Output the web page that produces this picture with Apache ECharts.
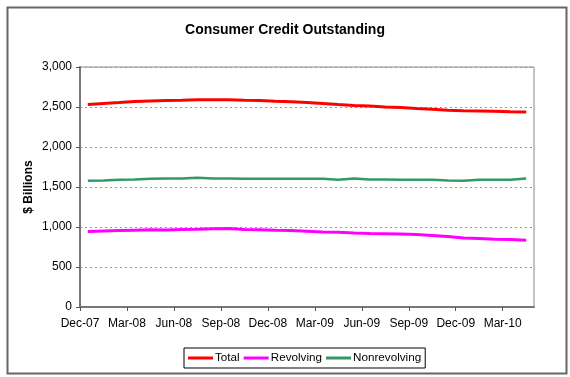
<!DOCTYPE html>
<html><head><meta charset="utf-8">
<script src="https://cdn.jsdelivr.net/npm/echarts@6/dist/echarts.min.js"></script>
<style>html,body{margin:0;padding:0;background:#fff}#c{width:570px;height:377px}</style>
</head><body><div id="c"></div>
<script>
const months = ['Dec-07','Jan-08','Feb-08','Mar-08','Apr-08','May-08','Jun-08','Jul-08','Aug-08','Sep-08','Oct-08','Nov-08','Dec-08','Jan-09','Feb-09','Mar-09','Apr-09','May-09','Jun-09','Jul-09','Aug-09','Sep-09','Oct-09','Nov-09','Dec-09','Jan-10','Feb-10','Mar-10','Apr-10'];
const tickLabels = ['Dec-07','Mar-08','Jun-08','Sep-08','Dec-08','Mar-09','Jun-09','Sep-09','Dec-09','Mar-10'];
const total = [2530,2545,2555,2568,2574,2580,2584,2590,2592,2592,2585,2580,2573,2567,2556,2545,2532,2520,2514,2500,2494,2482,2472,2460,2452,2450,2448,2440,2436];
const revolving = [945,950,955,960,965,962,968,972,978,980,970,966,960,957,948,938,934,925,918,916,914,905,894,880,862,855,848,845,835];
const nonrevolving = [1578,1582,1590,1594,1603,1605,1607,1615,1606,1605,1604,1604,1603,1603,1604,1603,1592,1606,1594,1593,1592,1591,1590,1580,1579,1590,1591,1592,1606];
const yTicks = [0,500,1000,1500,2000,2500,3000];

const tickPos = tickLabels.map(l => months.indexOf(l));
const toPts = arr => arr.map((v, i) => [i + 0.5, v]);
const fmt = v => v.toLocaleString('en-US');
const FONT = 'Arial, "Liberation Sans", sans-serif';

const chart = echarts.init(document.getElementById('c'), null, {renderer:'canvas'});
chart.setOption({
  animation: false,
  backgroundColor: '#fff',
  title: {
    text: 'Consumer Credit Outstanding', left: 'center', top: 18,
    textStyle: {fontFamily: FONT, fontSize: 14, fontWeight: 'bold', color: '#000'}
  },
  graphic: [{
    type: 'rect', left: 5, top: 5, shape: {width: 559, height: 366},
    style: {fill: 'none', stroke: '#666', lineWidth: 2}, silent: true, z: -1
  }],
  grid: {left: 80, right: 36, top: 67, bottom: 70, show: true, borderColor: '#888', borderWidth: 1},
  legend: {
    bottom: 9, left: 184,
    data: ['Total','Revolving','Nonrevolving'],
    icon: 'rect', itemWidth: 25, itemHeight: 3, itemGap: 4,
    borderColor: '#000', borderWidth: 1, padding: [4, 4, 4, 4],
    textStyle: {fontFamily: FONT, fontSize: 11.7, color: '#000', padding: [0,0,0,-3]}
  },
  xAxis: {
    type: 'value', min: 0, max: months.length,
    splitLine: {show: false},
    axisLine: {show: true, lineStyle: {color: '#777', width: 2}},
    axisTick: {show: true, length: 4, customValues: tickPos, lineStyle: {color: '#555'}},
    axisLabel: {
      customValues: tickPos, margin: 11,
      fontFamily: FONT, fontSize: 12, color: '#000',
      formatter: v => months[Math.round(v)] || ''
    }
  },
  yAxis: {
    type: 'value', min: yTicks[0], max: yTicks[yTicks.length-1], interval: 500,
    name: '$ Billions', nameLocation: 'middle', nameGap: 45, nameRotate: 90, nameMoveOverlap: false,
    nameTextStyle: {fontFamily: FONT, fontSize: 12, fontWeight: 'bold', color: '#000'},
    axisLine: {show: true, lineStyle: {color: '#777', width: 2}},
    axisTick: {show: true, length: 4, inside: false, lineStyle: {color: '#555'}},
    axisLabel: {fontFamily: FONT, fontSize: 12, color: '#000', margin: 8, formatter: fmt},
    splitLine: {show: true, lineStyle: {color: '#999', type: [2, 3], width: 1}}
  },
  series: [
    {name: 'Total', type: 'line', data: toPts(total), showSymbol: false, color: '#FF0000', lineStyle: {width: 3}},
    {name: 'Revolving', type: 'line', data: toPts(revolving), showSymbol: false, color: '#FF00FF', lineStyle: {width: 3}},
    {name: 'Nonrevolving', type: 'line', data: toPts(nonrevolving), showSymbol: false, color: '#339966', lineStyle: {width: 2.5}}
  ]
});
</script></body></html>
